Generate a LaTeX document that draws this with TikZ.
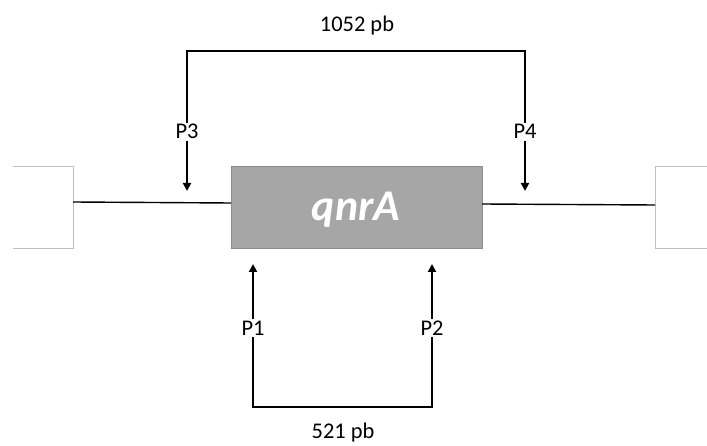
\documentclass[tikz,border=0pt]{standalone}
\usepackage{fontspec}
\setmainfont{Carlito}
\usetikzlibrary{arrows.meta}
\begin{document}
\begin{tikzpicture}[x=1bp,y=-1bp,
  lbl/.style={font=\fontsize{22.5}{26}\selectfont, inner sep=2bp, text height=14bp, text depth=0bp},
  num/.style={font=\fontsize{22.5}{26}\selectfont, inner sep=1bp},
  brk/.style={line width=2.5bp, black},
  arr/.style={line width=2.5bp, black, -{Triangle[length=8bp,width=8bp]}},
  dna/.style={line width=1.4bp, black},
  side/.style={draw=black!25, line width=1bp}]
\useasboundingbox (0,0) rectangle (707,446);
% side boxes (open towards the picture edges)
\draw[side] (13,167) -- (73,167) -- (73,249) -- (13,249);
\draw[side] (707,167) -- (655,167) -- (655,249) -- (707,249);
\coordinate (lb) at (73,202);
\coordinate (rb) at (655,205);
% gene
\node[draw=black!45, fill=black!35, line width=1bp, minimum width=251bp, minimum height=82bp, inner sep=0pt] (gene) at (356.5,208) {};
\node[font=\fontsize{44}{48}\selectfont\bfseries\itshape, text=white] (gname) at (356,210) {qnrA};
\coordinate (gl) at (231,203);
\coordinate (gr) at (482,204);
\draw[dna] (lb) -- (gl);
\draw[dna] (gr) -- (rb);
% top primers
\node[lbl] (p3) at (187,132) {P3};
\node[lbl] (p4) at (525,132) {P4};
\coordinate (topmid) at (356,51);
\coordinate (a3) at (187,191);
\coordinate (a4) at (525,191);
\draw[brk] (p3.north) |- (topmid) -| (p4.north);
\node[num] (t1052) at (357,26) {1052 pb};
\draw[arr] (p3.south) -- (a3);
\draw[arr] (p4.south) -- (a4);
% bottom primers
\node[lbl] (p1) at (253,328) {P1};
\node[lbl] (p2) at (432,328) {P2};
\coordinate (botmid) at (343,407);
\coordinate (a1) at (253,264);
\coordinate (a2) at (432,264);
\draw[brk] (p1.south) |- (botmid) -| (p2.south);
\node[num] (t521) at (343,433) {521 pb};
\draw[arr] (p1.north) -- (a1);
\draw[arr] (p2.north) -- (a2);
\end{tikzpicture}
\end{document}
